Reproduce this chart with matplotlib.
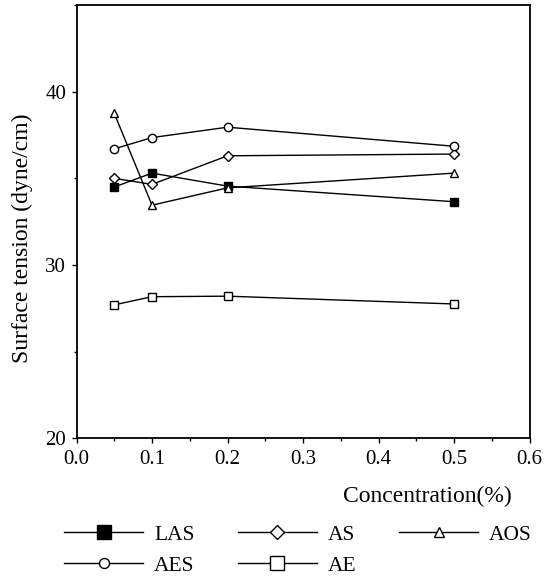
import matplotlib
matplotlib.use("Agg")
import matplotlib.pyplot as plt
from matplotlib.lines import Line2D
from matplotlib.ticker import MultipleLocator, FormatStrFormatter

plt.rcParams['font.family'] = ['Liberation Serif', 'DejaVu Serif']

conc = [0.05, 0.1, 0.2, 0.5]
las = [34.5, 35.3, 34.55, 33.65]
as_ = [35.0, 34.65, 36.3, 36.4]
aos = [38.75, 33.45, 34.45, 35.3]
aes = [36.7, 37.35, 37.95, 36.85]
ae = [27.7, 28.17, 28.2, 27.75]

W, H = 554, 577
fig = plt.figure(figsize=(W/100, H/100), dpi=100)
L, R, T, B = 76.5, 529.5, 5, 438.3
ax = fig.add_axes([L/W, 1-B/H, (R-L)/W, (B-T)/H])

kw = dict(color='black', lw=1.0, mew=1.0)
ax.plot(conc, las, marker='s', ms=6, mfc='black', **kw)
ax.plot(conc, as_, marker='D', ms=5, mfc='white', **kw)
ax.plot(conc, aos, marker='^', ms=5.8, mfc='white', **kw)
ax.plot(conc, aes, marker='o', ms=6, mfc='white', **kw)
ax.plot(conc, ae, marker='s', ms=5.3, mfc='white', **kw)

ax.set_xlim(0, 0.6)
ax.set_ylim(20, 45)
ax.xaxis.set_major_locator(MultipleLocator(0.1))
ax.xaxis.set_minor_locator(MultipleLocator(0.05))
ax.xaxis.set_major_formatter(FormatStrFormatter('%.1f'))
ax.set_yticks([20, 30, 40])
ax.yaxis.set_minor_locator(MultipleLocator(5))
ax.tick_params(labelsize=15, length=3.5, width=1)
ax.tick_params(axis='x', pad=5)
ax.tick_params(axis='y', pad=4)
ax.tick_params(which='minor', length=2.5, width=1)
for s in ax.spines.values():
    s.set_linewidth(1.3)

ax.set_ylabel('Surface tension (dyne/cm)', fontsize=17)
ax.yaxis.set_label_coords(-0.097, 0.462)
ax.set_xlabel('Concentration(%)', fontsize=17, loc='right')
ax.xaxis.set_label_coords((512-L)/(R-L), -0.109)

lk = dict(color='black', lw=1.0, mew=1.0)
handles = [
    Line2D([], [], marker='s', ms=10, mfc='black', **lk),
    Line2D([], [], marker='o', ms=7.2, mfc='white', **lk),
    Line2D([], [], marker='D', ms=7, mfc='white', **lk),
    Line2D([], [], marker='s', ms=9.6, mfc='white', **lk),
    Line2D([], [], marker='^', ms=7.5, mfc='white', **lk),
]
labels = ['LAS', 'AES', 'AS', 'AE', 'AOS']
fig.legend(handles, labels, ncol=3, frameon=False, fontsize=15.5,
           loc='upper left', bbox_to_anchor=(55.4/W, 1-516/H),
           handlelength=3.67, columnspacing=2.0, handletextpad=0.51,
           labelspacing=0.52, borderaxespad=0)

fig.savefig('out.png', dpi=100)
